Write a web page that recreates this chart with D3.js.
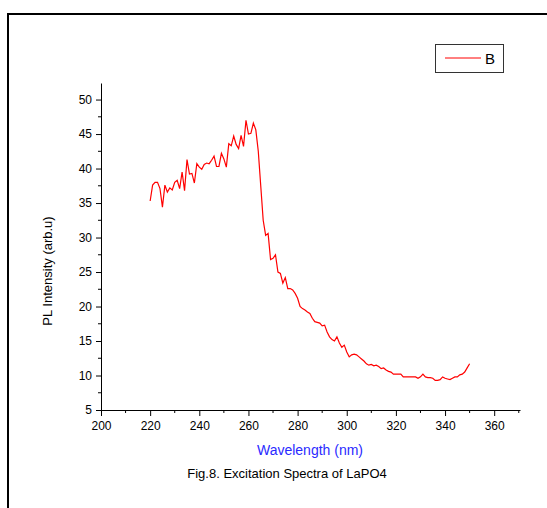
<!DOCTYPE html>
<html>
<head>
<meta charset="utf-8">
<script src="https://cdn.jsdelivr.net/npm/d3@7"></script>
<style>
  body { margin: 0; background: #fff; }
  svg { display: block; font-family: "Liberation Sans", Arial, sans-serif; }
</style>
</head>
<body>
<div id="chart"></div>
<script>
// Wavelength (nm) - 1 nm steps from 220 to 350
var wavelengths = d3.range(220, 351);
// PL intensity
var intensity = [
  35.3, 37.6, 38.0, 38.0, 37.1, 34.4, 37.6, 36.6, 37.2, 36.9,   // 220-229
  38.0, 38.3, 37.1, 39.5, 36.8, 41.3, 39.2, 39.3, 37.9, 40.7,   // 230-239
  40.2, 39.9, 40.6, 40.8, 40.7, 41.2, 41.8, 40.3, 40.3, 42.2,   // 240-249
  41.4, 40.2, 43.6, 43.3, 44.7, 43.5, 42.9, 44.8, 43.2, 47.0,   // 250-259
  45.0, 45.1, 46.6, 45.6, 42.5, 37.5, 32.5, 30.3, 30.6, 26.8,   // 260-269
  27.0, 27.5, 25.0, 24.8, 23.4, 24.2, 22.6, 22.6, 22.4, 21.9,   // 270-279
  21.2, 20.0, 19.7, 19.5, 19.2, 19.0, 18.3, 17.8, 17.7, 17.6,   // 280-289
  17.2, 17.3, 16.3, 15.6, 15.2, 15.0, 15.6, 14.7, 14.1, 14.4,   // 290-299
  13.4, 12.7, 13.0, 13.1, 13.0, 12.7, 12.4, 12.1, 11.7, 11.5,   // 300-309
  11.6, 11.4, 11.5, 11.3, 11.0, 11.1, 10.8, 10.6, 10.5, 10.2,   // 310-319
  10.2, 10.2, 10.2, 9.8, 9.8, 9.8, 9.8, 9.8, 9.8, 9.6,          // 320-329
  9.8, 10.2, 9.8, 9.7, 9.7, 9.6, 9.3, 9.3, 9.4, 9.8,            // 330-339
  9.6, 9.5, 9.4, 9.6, 9.8, 9.8, 10.1, 10.2, 10.5, 11.1,         // 340-349
  11.7                                                          // 350
];
var xTicks = [200, 220, 240, 260, 280, 300, 320, 340, 360];
var yTicks = [5, 10, 15, 20, 25, 30, 35, 40, 45, 50];
var seriesName = "B";

var data = wavelengths.map(function(w, i) { return {x: w, y: intensity[i]}; });

var width = 547, height = 508;
var svg = d3.select("#chart").append("svg")
    .attr("width", width)
    .attr("height", height);

// outer frame (runs off the right and bottom edge)
svg.append("rect")
    .attr("x", 8).attr("y", 14)
    .attr("width", 700).attr("height", 700)
    .attr("fill", "none")
    .attr("stroke", "#000")
    .attr("stroke-width", 2);

var x = d3.scaleLinear().domain([200, 370.5]).range([101, 520]);
var y = d3.scaleLinear().domain([5, 52.4]).range([410, 83]);

// minor ticks
var xMinor = d3.range(210, 371, 20);
var yMinor = d3.range(7.5, 52.5, 5);

var gx = svg.append("g").attr("transform", "translate(0,410)");
gx.call(d3.axisBottom(x).tickValues(xTicks).tickSize(6).tickSizeOuter(0).tickPadding(5));
gx.selectAll("line.minor").data(xMinor).enter().append("line")
    .attr("x1", function(d) { return x(d); }).attr("x2", function(d) { return x(d); })
    .attr("y1", 0).attr("y2", 3).attr("stroke", "#000");

var gy = svg.append("g").attr("transform", "translate(101,0)");
gy.call(d3.axisLeft(y).tickValues(yTicks).tickSize(5).tickSizeOuter(0).tickPadding(4));
gy.selectAll("line.minor").data(yMinor).enter().append("line")
    .attr("y1", function(d) { return y(d); }).attr("y2", function(d) { return y(d); })
    .attr("x1", 0).attr("x2", -3).attr("stroke", "#000");

svg.selectAll(".tick text")
    .attr("font-size", 12)
    .attr("font-family", "Liberation Sans, Arial, sans-serif")
    .attr("fill", "#000");
svg.selectAll(".domain, .tick line").attr("stroke", "#000");

// data line
var line = d3.line()
    .x(function(d) { return x(d.x); })
    .y(function(d) { return y(d.y); });

svg.append("path")
    .datum(data)
    .attr("d", line)
    .attr("fill", "none")
    .attr("stroke", "#ff0000")
    .attr("stroke-width", 1.2);

// axis titles
svg.append("text")
    .attr("x", 310).attr("y", 455)
    .attr("text-anchor", "middle")
    .attr("font-size", 14)
    .attr("fill", "#2a2aff")
    .text("Wavelength (nm)");

svg.append("text")
    .attr("transform", "translate(52,271) rotate(-90)")
    .attr("text-anchor", "middle")
    .attr("font-size", 13)
    .attr("fill", "#000")
    .text("PL Intensity (arb.u)");

svg.append("text")
    .attr("x", 287).attr("y", 478)
    .attr("text-anchor", "middle")
    .attr("font-size", 13)
    .attr("fill", "#000")
    .text("Fig.8. Excitation Spectra of LaPO4");

// legend
var lg = svg.append("g");
lg.append("rect")
    .attr("x", 435.5).attr("y", 44.5)
    .attr("width", 68).attr("height", 28)
    .attr("fill", "#fff")
    .attr("stroke", "#333");
lg.append("line")
    .attr("x1", 445).attr("x2", 481)
    .attr("y1", 58).attr("y2", 58)
    .attr("stroke", "#ff0000");
lg.append("text")
    .attr("x", 485).attr("y", 64)
    .attr("font-size", 15)
    .attr("fill", "#000")
    .text(seriesName);
</script>
</body>
</html>
